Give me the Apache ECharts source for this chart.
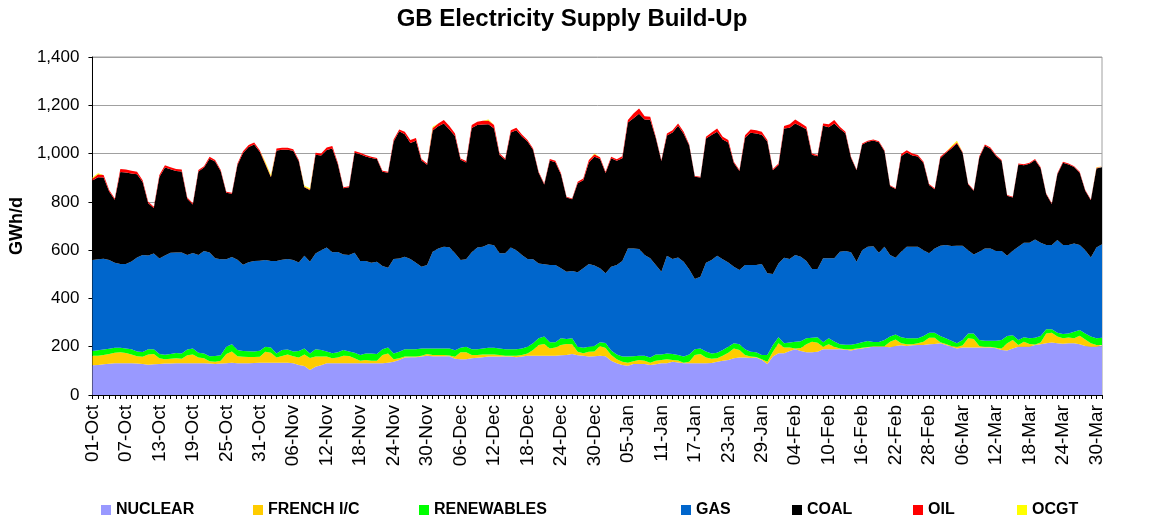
<!DOCTYPE html>
<html>
<head>
<meta charset="utf-8">
<title>GB Electricity Supply Build-Up</title>
<script src="https://cdn.jsdelivr.net/npm/echarts@6/dist/echarts.min.js"></script>
<style>
  html, body { margin: 0; padding: 0; background: #fff; }
  #chart { width: 1151px; height: 521px; }
</style>
</head>
<body>
<div id="chart"></div>
<script>
// daily GWh/d, 01-Oct .. 31-Mar
const nuclear = [
  123,124,127,129,131,131,131,131,130,128,125,127,128,130,130,131,131,131,131,131,132,130,128,130,132,134,132,131,132,133,134,
  134,134,134,134,134,131,124,120,104,117,123,131,131,131,131,131,131,131,131,131,131,131,134,138,145,155,156,156,159,163,
  160,160,160,160,150,148,148,152,154,156,159,159,159,159,159,156,159,163,163,163,163,163,163,165,166,170,165,163,159,160,163,
  160,142,131,124,121,128,128,128,124,127,131,131,138,135,131,131,131,131,131,133,138,142,145,152,155,155,153,155,145,128,
  159,173,173,182,189,182,177,177,179,189,189,189,189,187,184,189,193,197,200,200,200,198,203,206,203,206,207,207,210,211,214,
  207,200,193,197,197,197,197,197,197,194,186,184,193,200,200,200,207,210,214,217,214,212,214,214,210,203,200,200,200
];
const french = [
  40,39,39,41,44,46,43,37,30,30,43,43,24,18,20,21,19,34,37,24,20,10,10,12,38,46,28,27,25,24,24,
  45,41,21,28,34,29,31,48,49,42,36,28,21,24,32,31,21,11,14,11,11,35,38,10,7,4,3,3,4,7,
  6,6,6,4,8,29,29,14,12,12,9,9,7,4,4,7,7,9,23,44,48,30,34,42,45,40,14,10,20,20,40,
  35,24,17,14,13,12,17,14,10,15,14,17,7,8,3,7,35,39,24,17,14,21,30,41,31,11,6,2,3,10,
  20,41,24,15,4,13,33,44,37,11,21,11,4,3,6,4,3,2,2,2,2,23,27,8,7,4,7,14,27,26,4,
  4,3,7,8,38,35,6,3,3,2,7,30,35,7,21,11,2,7,41,41,28,23,24,21,35,27,14,7,7
];
const renewables = [
  19,22,22,22,21,19,19,22,20,20,22,20,18,19,20,22,22,23,25,20,20,20,24,23,30,30,26,24,24,23,25,
  21,22,17,24,20,20,27,25,19,30,27,21,21,22,23,18,23,24,27,30,28,23,25,24,27,30,30,30,30,23,
  27,27,27,29,27,19,23,24,24,25,28,28,27,27,27,27,27,28,28,28,31,25,21,28,21,25,21,23,21,23,16,
  20,18,20,21,25,20,18,21,21,26,23,24,25,23,25,30,23,23,25,22,23,23,25,21,24,24,20,20,18,28,
  28,25,17,20,28,28,25,16,23,18,25,22,17,18,18,19,22,25,18,18,26,21,21,25,25,25,21,23,21,21,26,
  24,22,14,23,20,23,25,25,25,29,35,30,20,21,18,24,28,27,17,14,16,18,17,27,24,25,28,28,30
];
const gas = [
  377,377,376,367,352,347,350,363,390,402,388,396,395,411,419,416,418,392,395,405,424,430,404,397,362,362,374,358,369,375,373,
  359,358,383,374,375,379,367,384,380,397,414,431,418,415,396,400,414,389,383,376,382,345,330,391,386,384,374,359,338,345,
  400,414,421,419,402,363,362,401,421,421,428,424,394,397,421,410,387,363,348,310,300,320,320,290,279,279,308,329,343,333,306,
  289,347,370,396,448,447,442,417,411,370,343,405,393,404,393,352,291,297,368,387,402,376,349,317,308,348,359,361,377,338,
  294,306,355,346,359,350,320,285,283,348,331,344,383,388,383,340,382,390,396,369,386,338,318,354,379,379,379,356,329,349,374,
  386,392,404,390,345,327,365,382,382,371,368,333,349,386,392,396,407,387,349,349,384,368,366,366,352,345,328,376,387
];
const coal = [
  329,340,337,284,261,381,379,364,344,302,216,189,338,364,346,338,336,233,201,346,346,389,401,365,276,262,393,462,477,483,452,
  397,347,458,456,453,453,419,283,296,409,392,404,430,364,274,281,414,442,433,434,425,391,394,487,527,507,481,505,440,416,
  503,506,511,488,486,415,401,515,507,506,497,484,407,387,476,497,491,487,454,376,330,433,426,388,307,297,369,364,420,451,454,
  416,450,432,426,522,539,560,561,574,526,458,498,524,545,530,513,424,411,514,518,513,496,497,430,410,528,548,545,535,546,
  430,408,535,544,545,540,546,473,467,549,543,559,510,488,392,379,438,435,438,458,396,286,284,397,390,378,374,361,283,245,363,
  381,404,424,385,273,264,391,425,413,394,373,248,221,341,321,327,329,308,211,170,272,341,334,316,300,246,237,327,319
];
const oil = [
  8,12,10,6,5,12,12,12,11,8,6,5,8,10,8,8,8,5,5,6,6,8,6,5,4,4,6,8,8,8,6,
  4,3,8,8,8,6,5,3,3,8,8,10,10,6,4,4,8,6,6,5,5,4,4,8,8,10,12,12,6,5,
  10,12,14,14,10,6,6,12,14,16,16,14,6,6,10,10,8,6,5,4,4,6,6,5,3,3,6,8,10,10,6,
  5,6,6,8,10,20,22,14,12,6,4,8,10,10,8,5,3,3,8,10,14,12,10,5,4,10,14,14,12,6,
  5,6,10,14,16,14,10,5,5,10,12,14,8,6,4,3,4,4,4,4,4,3,3,8,10,8,6,5,4,4,6,
  5,6,5,4,3,3,5,6,5,4,4,3,3,4,4,4,5,4,3,3,4,4,4,4,4,3,3,3,3
];
const ocgt = [
  5,4,0,0,0,0,0,0,0,0,0,0,0,0,0,0,0,0,0,0,0,0,0,0,0,0,0,0,0,0,0,
  6,6,0,0,0,0,0,4,5,0,0,0,0,0,0,0,0,0,0,0,0,0,0,0,0,0,0,0,0,0,
  5,0,0,0,0,0,0,0,0,0,4,0,0,0,0,0,0,0,0,0,0,0,0,0,0,0,0,0,0,3,0,
  0,0,0,0,0,0,0,0,0,0,0,0,0,0,0,0,0,0,0,0,0,0,0,0,0,0,0,0,0,0,
  0,0,0,0,0,0,0,0,0,0,0,0,0,0,0,0,0,0,0,0,0,0,0,0,0,0,0,0,0,0,0,
  0,4,6,0,0,0,0,0,0,0,0,0,0,0,0,0,0,0,0,0,0,0,0,0,0,0,0,2,2
];

const seriesNames = ['NUCLEAR', 'FRENCH I/C', 'RENEWABLES', 'GAS', 'COAL', 'OIL', 'OCGT'];
const seriesColors = ['#9999FF', '#FFCC00', '#00FF00', '#0066CC', '#000000', '#FF0000', '#FFFF00'];
const seriesData = [nuclear, french, renewables, gas, coal, oil, ocgt];
const legendLeft = [96, 248, 414, 676, 787, 908, 1012];

// category labels dd-Mon from 01-Oct
const MONTHS = ['Jan','Feb','Mar','Apr','May','Jun','Jul','Aug','Sep','Oct','Nov','Dec'];
const days = [];
const start = Date.UTC(2010, 9, 1);
for (let i = 0; i < nuclear.length; i++) {
  const d = new Date(start + i * 86400000);
  days.push(String(d.getUTCDate()).padStart(2, '0') + '-' + MONTHS[d.getUTCMonth()]);
}

const FONT = '"Liberation Sans", Arial, sans-serif';

const chart = echarts.init(document.getElementById('chart'), null, { renderer: 'canvas' });

chart.setOption({
  animation: false,
  backgroundColor: '#ffffff',
  title: {
    text: 'GB Electricity Supply Build-Up',
    left: 567,
    textAlign: 'center',
    top: 2,
    textStyle: { fontFamily: FONT, fontSize: 24, fontWeight: 'bold', color: '#000' },
  },
  grid: {
    left: 90,
    right: 49,
    top: 57,
    bottom: 126,
    show: true,
    borderColor: '#a0a0a0',
    borderWidth: 1,
  },
  legend: seriesNames.map((name, i) => ({
    data: [{ name, icon: 'rect', itemStyle: { color: seriesColors[i] } }],
    left: legendLeft[i],
    top: 497,
    itemWidth: 10,
    itemHeight: 10,
    selectedMode: false,
    textStyle: { fontFamily: FONT, fontSize: 16, fontWeight: 'bold', color: '#000' },
  })),
  xAxis: {
    type: 'category',
    boundaryGap: false,
    data: days,
    axisLine: { lineStyle: { color: '#000', width: 1 } },
    axisTick: { show: true, interval: 0, length: 4, lineStyle: { color: '#000' } },
    axisLabel: {
      interval: 5,
      rotate: 90,
      margin: 10,
      fontFamily: FONT,
      fontSize: 19,
      color: '#000',
    },
    splitLine: { show: false },
  },
  yAxis: {
    type: 'value',
    min: 0,
    max: 1400,
    interval: 200,
    name: 'GWh/d',
    nameLocation: 'middle',
    nameGap: 56,
    nameTextStyle: { fontFamily: FONT, fontSize: 18, fontWeight: 'bold', color: '#000' },
    axisLine: { show: true, lineStyle: { color: '#000', width: 1 } },
    axisTick: { show: true, length: 4, lineStyle: { color: '#000' } },
    axisLabel: {
      margin: 13,
      fontFamily: FONT,
      fontSize: 17,
      color: '#000',
      formatter: v => v.toLocaleString('en-US'),
    },
    splitLine: { show: true, lineStyle: { color: '#a0a0a0', width: 1 } },
  },
  series: seriesNames.map((name, i) => ({
    name,
    type: 'line',
    stack: 'supply',
    data: seriesData[i],
    symbol: 'none',
    smooth: false,
    lineStyle: { width: 0, opacity: 0 },
    itemStyle: { color: seriesColors[i] },
    areaStyle: { color: seriesColors[i], opacity: 1 },
    emphasis: { disabled: true },
  })),
});
</script>
</body>
</html>
